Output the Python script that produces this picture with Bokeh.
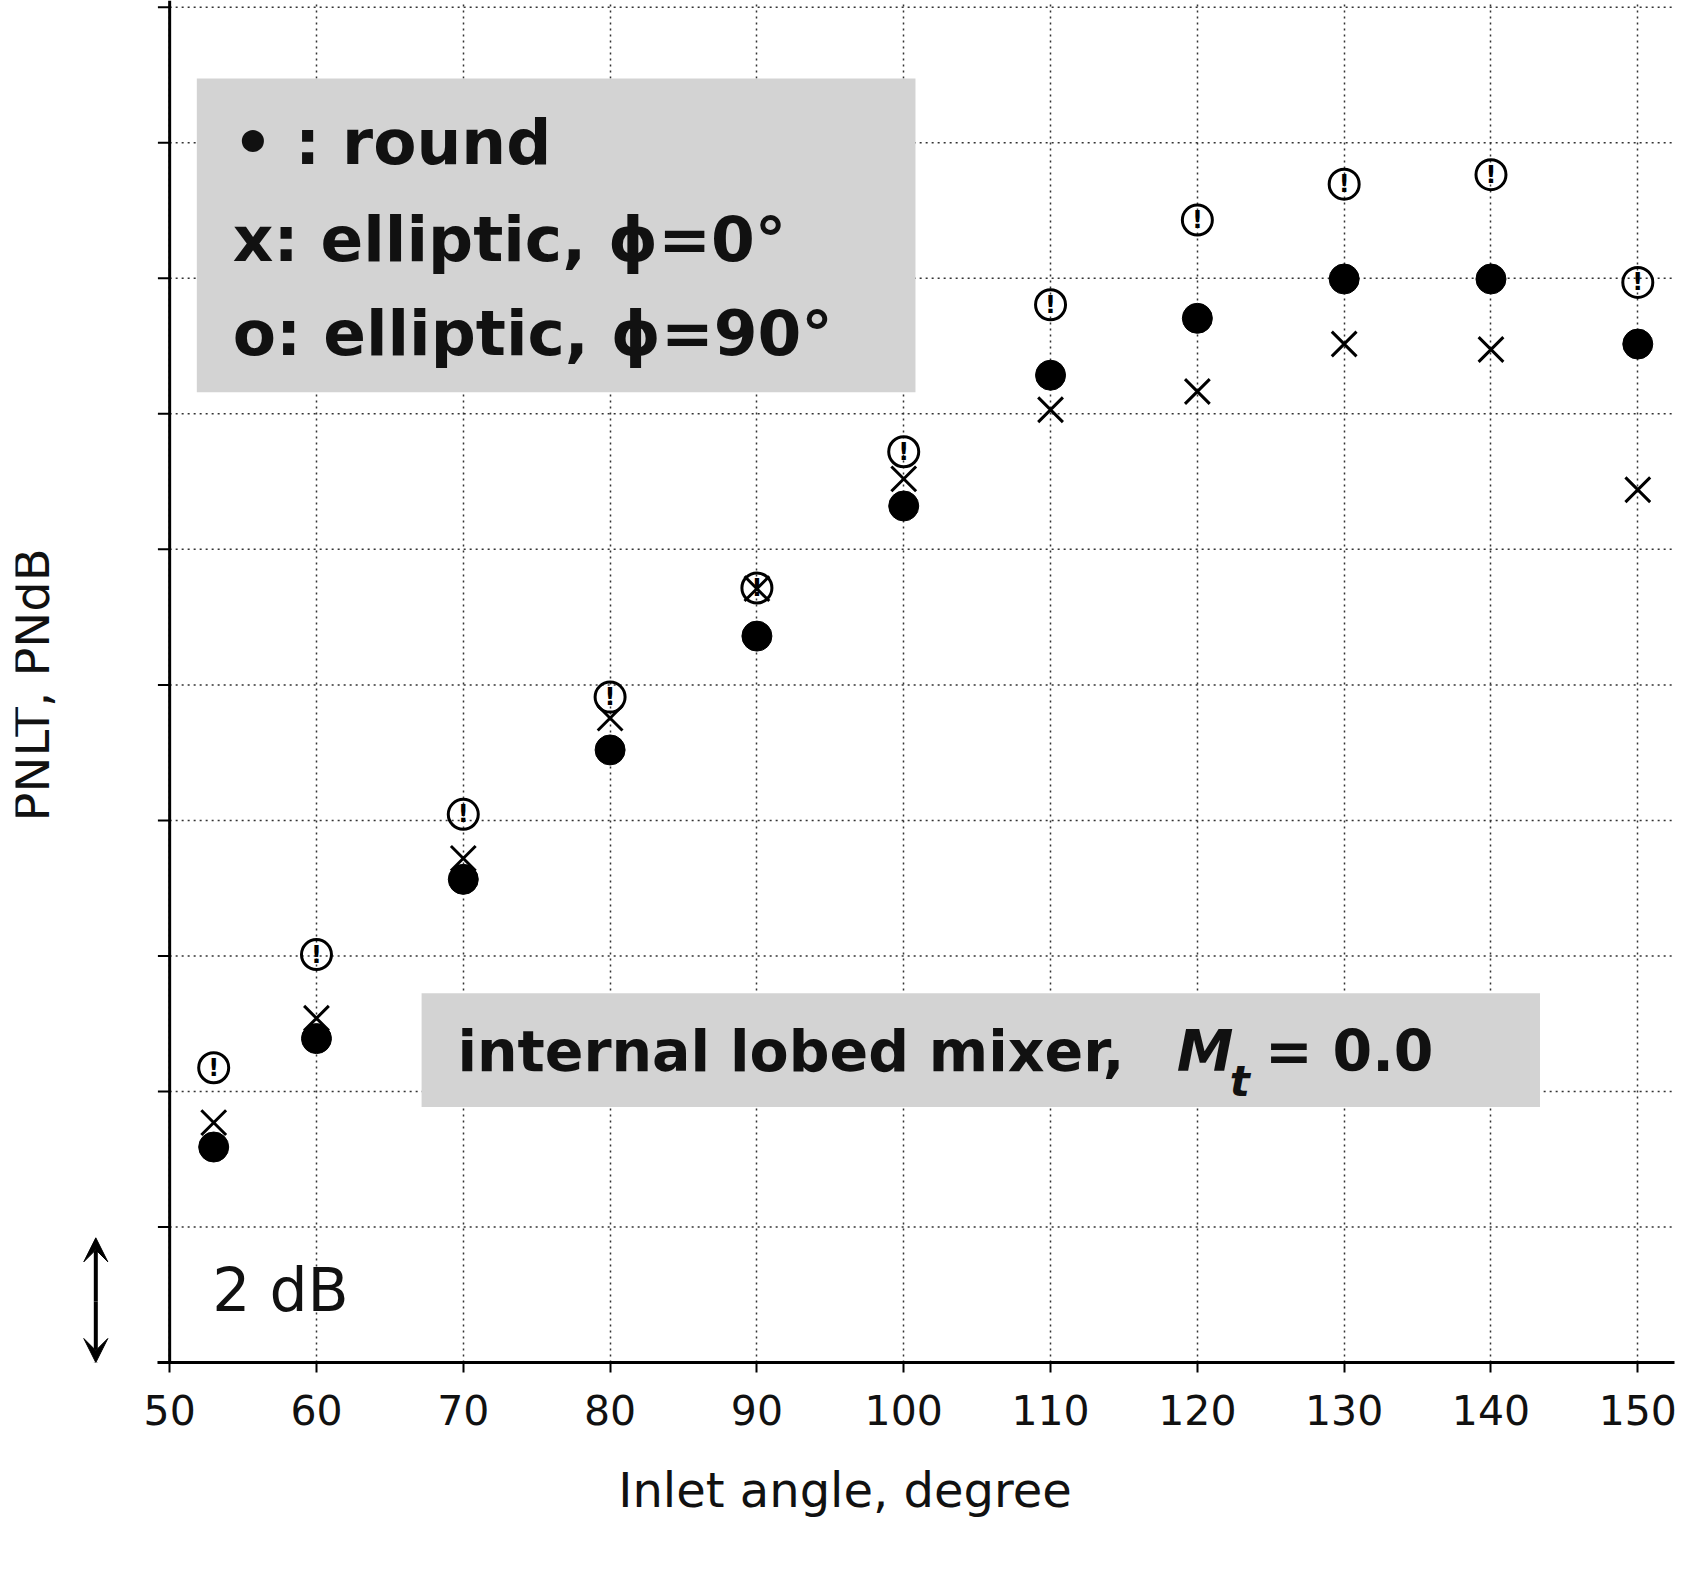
from bokeh.plotting import figure
from bokeh.embed import file_html
from bokeh.resources import INLINE
from bokeh.models import Arrow, VeeHead, FixedTicker, Range1d
from bokeh.core.properties import value

angles = [53, 60, 70, 80, 90, 100, 110, 120, 130, 140, 150]
round_v = [3.18, 4.78, 7.13, 9.04, 10.72, 12.64, 14.57, 15.41, 15.99, 15.99, 15.03]
ell0_v = [3.54, 5.08, 7.44, 9.51, 11.42, 13.04, 14.06, 14.33, 15.03, 14.95, 12.88]
ell90_v = [4.35, 6.02, 8.09, 9.82, 11.43, 13.44, 15.61, 16.86, 17.39, 17.53, 15.94]
x_ticks = list(range(50, 151, 10))
y_ticks = list(range(0, 21, 2))

F = "DejaVu Sans"
XMIN, XMAX = 39.5, 152.5
p = figure(width=1684, height=1566, output_backend="svg", toolbar_location=None,
           x_range=Range1d(XMIN, XMAX), y_range=Range1d(0, 20.1),
           min_border_left=15, min_border_right=10, min_border_top=0, min_border_bottom=204)
p.outline_line_color = None
p.yaxis.visible = False
p.ygrid.visible = False
p.xaxis.ticker = FixedTicker(ticks=x_ticks)
p.xaxis.bounds = (49.2, XMAX)
p.xaxis.axis_line_width = 3
p.xaxis.major_tick_line_width = 2
p.xaxis.major_tick_in = 0
p.xaxis.major_tick_out = 10
p.xaxis.minor_tick_line_color = None
p.xaxis.major_label_text_font = F
p.xaxis.major_label_text_font_size = "41px"
p.xaxis.major_label_text_color = "#111"
p.xaxis.major_label_standoff = 22
p.xaxis.axis_label = "Inlet angle, degree"
p.xaxis.axis_label_text_font = F
p.xaxis.axis_label_text_font_size = "48px"
p.xaxis.axis_label_text_font_style = "normal"
p.xaxis.axis_label_text_color = "#111"
p.xaxis.axis_label_standoff = 34
p.xgrid.grid_line_color = "#333"
p.xgrid.grid_line_dash = "2 4"
p.xgrid.grid_line_width = 1.5

# manual y grid, left axis line and ticks
gy = y_ticks[1:]
p.segment(x0=[50] * len(gy), y0=gy, x1=[XMAX] * len(gy), y1=gy,
          line_color="#333", line_dash="2 4", line_width=1.5)
p.segment(x0=[49.2] * len(y_ticks), y0=y_ticks, x1=[50] * len(y_ticks), y1=y_ticks,
          line_color="black", line_width=2)
p.segment(x0=[50], y0=[0], x1=[50], y1=[20.1], line_color="black", line_width=3)

# boxes
p.quad(left=[51.85], right=[100.8], bottom=[14.32], top=[18.95], fill_color="#d3d3d3", line_color=None)
p.quad(left=[67.16], right=[143.34], bottom=[3.77], top=[5.45], fill_color="#d3d3d3", line_color=None)

p.scatter(angles, round_v, marker="circle", size=30, fill_color="black", line_color="black")
p.scatter(angles, ell0_v, marker="x", size=35, line_color="black", line_width=3)
p.scatter(angles, ell90_v, marker="circle", size=30, fill_color=None, line_color="black", line_width=3)
p.text(angles, ell90_v, text=["!"] * len(angles), text_align="center", text_baseline="middle",
       text_font=value(F), text_font_size="24px", text_font_style="bold", text_color="black")

leg = ["\u2022 : round", "x: elliptic, \u03d5=0\u00b0", "o: elliptic, \u03d5=90\u00b0"]
p.text([54.3] * 3, [18.0, 16.58, 15.18], text=leg, text_baseline="middle",
       text_font=value(F), text_font_size="63px", text_font_style="bold", text_color="#111")
p.text([69.6], [4.6], text=["internal lobed mixer,"], text_baseline="middle",
       text_font=value(F), text_font_size="57px", text_font_style="bold", text_color="#111")
p.text([118.6], [4.6], text=["M"], text_baseline="middle",
       text_font=value(F), text_font_size="57px", text_font_style="bold italic", text_color="#111")
p.text([122.2], [4.15], text=["t"], text_baseline="middle",
       text_font=value(F), text_font_size="42px", text_font_style="bold italic", text_color="#111")
p.text([124.6], [4.6], text=["= 0.0"], text_baseline="middle",
       text_font=value(F), text_font_size="57px", text_font_style="bold", text_color="#111")
p.text([52.9], [1.07], text=["2 dB"], text_baseline="middle",
       text_font=value(F), text_font_size="60px", text_color="#111")
p.text([40.6], [10.0], text=["PNLT, PNdB"], angle=1.5708, text_align="center", text_baseline="middle",
       text_font=value(F), text_font_size="48px", text_color="#111")

p.add_layout(Arrow(x_start=44.97, y_start=0.9, x_end=44.97, y_end=1.84, line_width=4,
                   end=VeeHead(size=24, fill_color="black", line_color="black")))
p.add_layout(Arrow(x_start=44.97, y_start=0.9, x_end=44.97, y_end=0.0, line_width=4,
                   end=VeeHead(size=24, fill_color="black", line_color="black")))

open("out.html", "w").write(file_html(p, INLINE))
